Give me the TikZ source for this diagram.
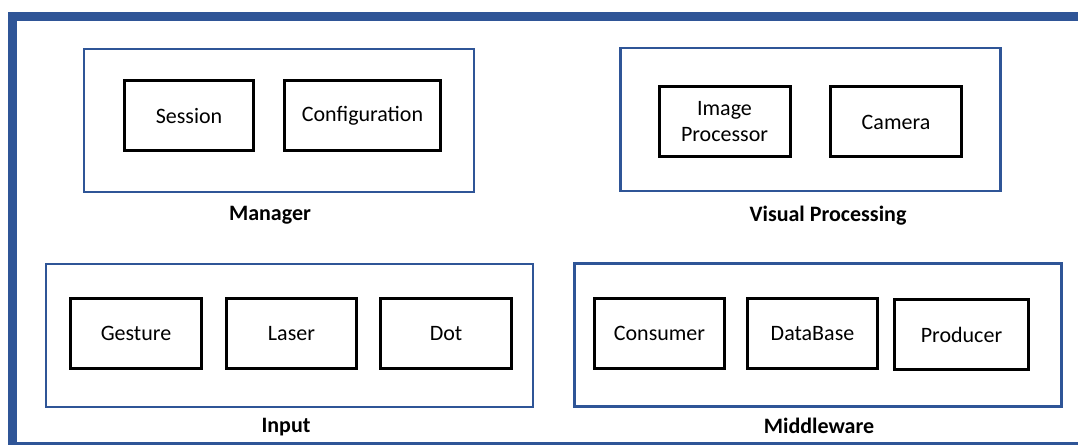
\documentclass[tikz,border=0pt]{standalone}
\usepackage{fontspec}
\setmainfont{Carlito}
\usetikzlibrary{positioning}
\definecolor{frameblue}{HTML}{2F5597}

\begin{document}
\begin{tikzpicture}[x=1pt, y=-1pt,
  group/.style={draw=frameblue, line width=2.6pt, minimum width=#1, minimum height=143pt},
  part/.style={draw, line width=3pt, minimum width=#1, minimum height=70pt, align=center,
    font=\fontsize{22}{26}\selectfont},
  grouplabel/.style={font=\fontsize{22}{26}\selectfont\bfseries, inner sep=0pt}]
  \useasboundingbox (0,0) rectangle (1078,446);
  % outer frame: heavy left and top, thin bottom
  \fill[frameblue] (8,12) rectangle (17,445);
  \fill[frameblue] (8,12) rectangle (1078,21);
  \fill[frameblue] (8,442) rectangle (1078,445);

  % groups
  \node[group=390pt] (manager) at (279,120.5) {};
  \node[group=380pt] (visual) at (810.5,119.5) {};
  \node[group=487pt] (input) at (289.5,335.5) {};
  \node[group=487pt] (middleware) at (818,335) {};

  % parts
  \node[part=129pt] (session) at (189,116) {Session};
  \node[part=156pt] (config) at (362.5,116) {Configuration};
  \node[part=131pt] (imgproc) at (724.5,122) {Image\\Processor};
  \node[part=131pt] (camera) at (896,122) {Camera};
  \node[part=131pt] (gesture) at (136,333.5) {Gesture};
  \node[part=130pt] (laser) at (291.5,333.5) {Laser};
  \node[part=131pt] (dot) at (446,333.5) {Dot};
  \node[part=130pt] (consumer) at (659.5,333.5) {Consumer};
  \node[part=130pt] (database) at (812.5,333.5) {DataBase};
  \node[part=134pt] (producer) at (961.5,334.5) {Producer};

  % group names
  \node[grouplabel] (managername) at (270,215) {Manager};
  \node[grouplabel] (visualname) at (828,216) {Visual Processing};
  \node[grouplabel] (inputname) at (286,427) {Input};
  \node[grouplabel] (middlewarename) at (819,426) {Middleware};
\end{tikzpicture}
\end{document}
